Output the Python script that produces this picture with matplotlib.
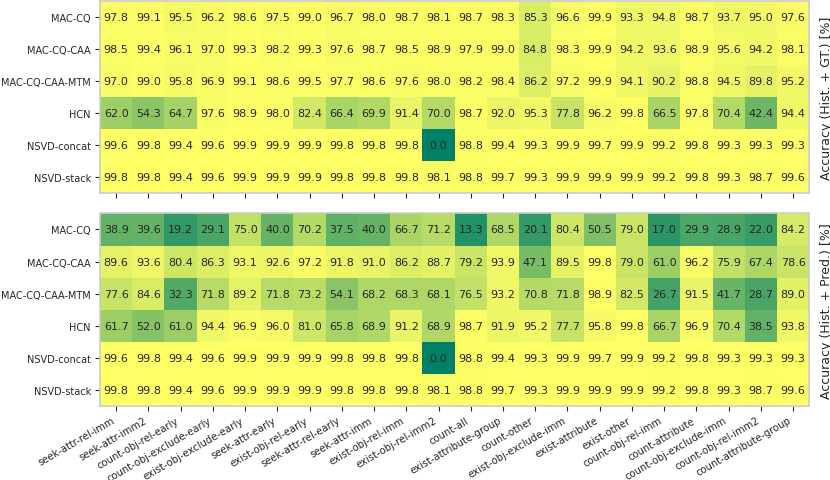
import matplotlib.pyplot as plt
import numpy as np

models = ["MAC-CQ", "MAC-CQ-CAA", "MAC-CQ-CAA-MTM", "HCN", "NSVD-concat", "NSVD-stack"]
tasks = [
    "seek-attr-rel-imm", "seek-attr-imm2", "count-obj-rel-early", "count-obj-exclude-early",
    "exist-obj-exclude-early", "seek-attr-early", "exist-obj-rel-early", "seek-attr-rel-early",
    "seek-attr-imm", "exist-obj-rel-imm", "exist-obj-rel-imm2", "count-all",
    "exist-attribute-group", "count-other", "exist-obj-exclude-imm", "exist-attribute",
    "exist-other", "count-obj-rel-imm", "count-attribute", "count-obj-exclude-imm",
    "count-obj-rel-imm2", "count-attribute-group",
]

acc_gt = [
    [97.8, 99.1, 95.5, 96.2, 98.6, 97.5, 99.0, 96.7, 98.0, 98.7, 98.1, 98.7, 98.3, 85.3, 96.6, 99.9, 93.3, 94.8, 98.7, 93.7, 95.0, 97.6],
    [98.5, 99.4, 96.1, 97.0, 99.3, 98.2, 99.3, 97.6, 98.7, 98.5, 98.9, 97.9, 99.0, 84.8, 98.3, 99.9, 94.2, 93.6, 98.9, 95.6, 94.2, 98.1],
    [97.0, 99.0, 95.8, 96.9, 99.1, 98.6, 99.5, 97.7, 98.6, 97.6, 98.0, 98.2, 98.4, 86.2, 97.2, 99.9, 94.1, 90.2, 98.8, 94.5, 89.8, 95.2],
    [62.0, 54.3, 64.7, 97.6, 98.9, 98.0, 82.4, 66.4, 69.9, 91.4, 70.0, 98.7, 92.0, 95.3, 77.8, 96.2, 99.8, 66.5, 97.8, 70.4, 42.4, 94.4],
    [99.6, 99.8, 99.4, 99.6, 99.9, 99.9, 99.9, 99.8, 99.8, 99.8, 0.0, 98.8, 99.4, 99.3, 99.9, 99.7, 99.9, 99.2, 99.8, 99.3, 99.3, 99.3],
    [99.8, 99.8, 99.4, 99.6, 99.9, 99.9, 99.9, 99.8, 99.8, 99.8, 98.1, 98.8, 99.7, 99.3, 99.9, 99.9, 99.9, 99.2, 99.8, 99.3, 98.7, 99.6],
]

acc_pred = [
    [38.9, 39.6, 19.2, 29.1, 75.0, 40.0, 70.2, 37.5, 40.0, 66.7, 71.2, 13.3, 68.5, 20.1, 80.4, 50.5, 79.0, 17.0, 29.9, 28.9, 22.0, 84.2],
    [89.6, 93.6, 80.4, 86.3, 93.1, 92.6, 97.2, 91.8, 91.0, 86.2, 88.7, 79.2, 93.9, 47.1, 89.5, 99.8, 79.0, 61.0, 96.2, 75.9, 67.4, 78.6],
    [77.6, 84.6, 32.3, 71.8, 89.2, 71.8, 73.2, 54.1, 68.2, 68.3, 68.1, 76.5, 93.2, 70.8, 71.8, 98.9, 82.5, 26.7, 91.5, 41.7, 28.7, 89.0],
    [61.7, 52.0, 61.0, 94.4, 96.9, 96.0, 81.0, 65.8, 68.9, 91.2, 68.9, 98.7, 91.9, 95.2, 77.7, 95.8, 99.8, 66.7, 96.9, 70.4, 38.5, 93.8],
    [99.6, 99.8, 99.4, 99.6, 99.9, 99.9, 99.9, 99.8, 99.8, 99.8, 0.0, 98.8, 99.4, 99.3, 99.9, 99.7, 99.9, 99.2, 99.8, 99.3, 99.3, 99.3],
    [99.8, 99.8, 99.4, 99.6, 99.9, 99.9, 99.9, 99.8, 99.8, 99.8, 98.1, 98.8, 99.7, 99.3, 99.9, 99.9, 99.9, 99.2, 99.8, 99.3, 98.7, 99.6],
]

ylabels = ["Accuracy (Hist. + GT.) [%]", "Accuracy (Hist. + Pred.) [%]"]


def draw_panel(ax, data, ylabel, show_x):
    data = np.array(data)
    ax.pcolormesh(data, cmap="summer", vmin=0, vmax=100)
    ax.set_xlim(0, data.shape[1])
    ax.set_ylim(data.shape[0], 0)
    for i in range(data.shape[0]):
        for j in range(data.shape[1]):
            ax.text(j + 0.5, i + 0.5, f"{data[i, j]:.1f}", ha="center", va="center",
                    fontsize=8, color="#262626")
    ax.set_yticks(np.arange(data.shape[0]) + 0.5)
    ax.set_yticklabels(models, fontsize=7, color="#262626")
    ax.set_xticks(np.arange(data.shape[1]) + 0.5)
    if show_x:
        ax.set_xticklabels(tasks, rotation=30, ha="right", fontsize=7.2,
                           color="#262626")
    else:
        ax.set_xticklabels([])
    ax.tick_params(length=3.5, width=0.8, color="#262626", pad=3)
    ax.yaxis.set_label_position("right")
    ax.set_ylabel(ylabel, fontsize=9, color="#262626", labelpad=8)
    for s in ax.spines.values():
        s.set_color("#cccccc")
        s.set_linewidth(1.2)


fig, axes = plt.subplots(2, 1, figsize=(8.3, 4.81), dpi=100)
draw_panel(axes[0], acc_gt, ylabels[0], False)
draw_panel(axes[1], acc_pred, ylabels[1], True)
fig.subplots_adjust(left=0.1205, right=0.975, top=0.996, bottom=0.154, hspace=0.104)
fig.savefig("out.png")
